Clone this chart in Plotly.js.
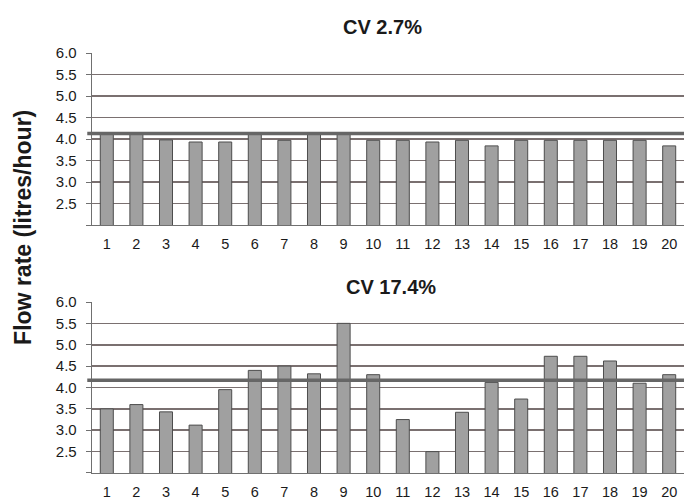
<!DOCTYPE html>
<html>
<head>
<meta charset="utf-8">
<script src="https://cdn.plot.ly/plotly-3.0.1.min.js"></script>
<style>html,body{margin:0;padding:0;background:#fff;}#chart{width:684px;height:502px;}</style>
</head>
<body>
<div id="chart"></div>
<script>
const emitters = ["1","2","3","4","5","6","7","8","9","10","11","12","13","14","15","16","17","18","19","20"];
const flowLowCV = [4.12,4.12,3.98,3.93,3.93,4.12,3.97,4.12,4.12,3.97,3.97,3.93,3.97,3.84,3.97,3.97,3.97,3.97,3.97,3.84];
const flowHighCV = [3.50,3.60,3.43,3.12,3.95,4.40,4.50,4.32,5.50,4.30,3.25,2.50,3.42,4.12,3.73,4.73,4.73,4.62,4.10,4.30];
const refLowCV = 4.13;
const refHighCV = 4.17;
const yTickVals = [2.0,2.5,3.0,3.5,4.0,4.5,5.0,5.5,6.0];
const yTickText = ["","2.5","3.0","3.5","4.0","4.5","5.0","5.5","6.0"];
const titleLow = "CV 2.7%";
const titleHigh = "CV 17.4%";
const yTitle = "Flow rate (litres/hour)";

const barStyle = {color:'#a0a0a0', line:{color:'#4d4d4d', width:1}};
const traces = [
  {type:'bar', x:emitters, y:flowLowCV, xaxis:'x', yaxis:'y', marker:barStyle, hoverinfo:'x+y'},
  {type:'bar', x:emitters, y:flowHighCV, xaxis:'x2', yaxis:'y2', marker:barStyle, hoverinfo:'x+y'}
];
const font = {family:'"Liberation Sans", Arial, sans-serif', color:'#1a1a1a'};
function yax(domain){
  return {domain:domain, range:[2,6], tickvals:yTickVals, ticktext:yTickText,
    showgrid:true, gridcolor:'#7a7070', gridwidth:1.5, zeroline:false,
    showline:true, linecolor:'#707070', linewidth:1.3, ticks:'outside', ticklen:5,
    tickcolor:'#707070', tickfont:{size:15}, ticklabelstandoff:6, automargin:false, fixedrange:true};
}
function xax(anchor){
  return {anchor:anchor, domain:[0,1], type:'category', showgrid:false, zeroline:false,
    showline:true, linecolor:'#707070', linewidth:1.3, ticks:'', tickfont:{size:14.5},
    ticklabelstandoff:5, automargin:false, fixedrange:true};
}
const layout = {
  width:684, height:502, margin:{l:92, r:0, t:0, b:0},
  paper_bgcolor:'#ffffff', plot_bgcolor:'#ffffff', showlegend:false,
  font:font, bargap:0.56,
  xaxis:xax('y'), yaxis:yax([0.5518,0.8944]),
  xaxis2:xax('y2'), yaxis2:yax([0.0578,0.3984]),
  shapes:[
    {type:'line', xref:'paper', yref:'y', x0:-0.008, x1:1, y0:refLowCV, y1:refLowCV, line:{color:'#666666', width:3.5}},
    {type:'line', xref:'paper', yref:'y2', x0:-0.008, x1:1, y0:refHighCV, y1:refHighCV, line:{color:'#666666', width:3.5}}
  ],
  annotations:[
    {text:'<b>'+titleLow+'</b>', xref:'paper', yref:'paper', x:0.49, y:0.946, showarrow:false, font:{size:20}, xanchor:'center', yanchor:'middle'},
    {text:'<b>'+titleHigh+'</b>', xref:'paper', yref:'paper', x:0.505, y:0.428, showarrow:false, font:{size:20}, xanchor:'center', yanchor:'middle'},
    {text:'<b>'+yTitle+'</b>', xref:'paper', yref:'paper', x:-0.1166, y:0.548, showarrow:false, textangle:-90, font:{size:23}, xanchor:'center', yanchor:'middle'}
  ]
};
Plotly.newPlot('chart', traces, layout, {displayModeBar:false, staticPlot:true});
</script>
</body>
</html>
